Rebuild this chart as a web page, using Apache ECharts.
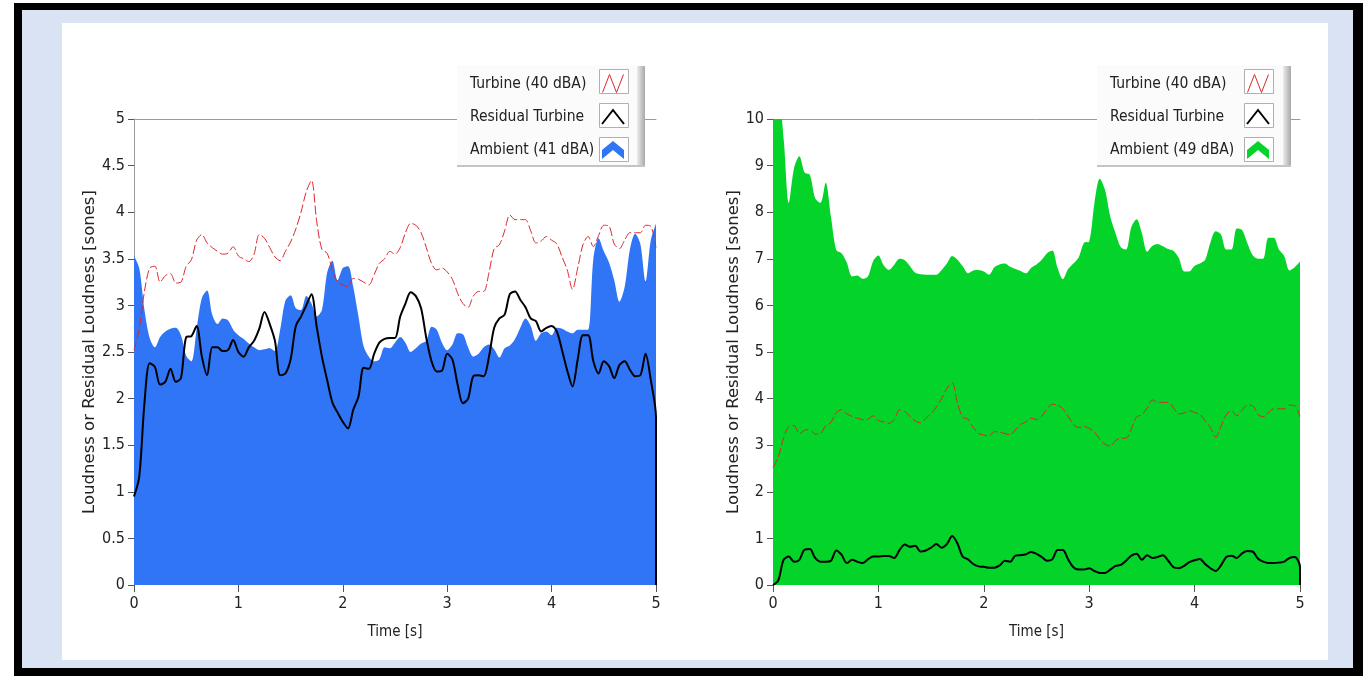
<!DOCTYPE html>
<html><head><meta charset="utf-8">
<script src="https://cdn.jsdelivr.net/npm/echarts@6/dist/echarts.min.js"></script>
<style>
html,body{margin:0;padding:0;background:#fff;}
#wrap{position:relative;width:1367px;height:676px;overflow:hidden;background:#fff;}
.blk{position:absolute;left:14px;top:3px;width:1349px;height:700px;background:#000;}
.lb{position:absolute;left:22px;top:10px;width:1331px;height:658px;background:#dae3f3;}
.wh{position:absolute;left:62px;top:23px;width:1266px;height:637px;background:#fff;}
#chart{position:absolute;left:0;top:0;width:1367px;height:676px;}
</style></head><body>
<div id="wrap"><div class="blk"></div><div class="lb"></div><div class="wh"></div><div id="chart"></div></div>
<script>
// sampling grid: 0 .. 5 s every 0.05 s
const times = Array.from({length: 101}, (_, i) => +(i * 0.05).toFixed(2));

const turbine = [
 2.52,2.75,3.15,3.40,3.42,3.25,3.32,3.34,3.24,3.25,
 3.42,3.49,3.70,3.76,3.67,3.62,3.58,3.55,3.56,3.63,
 3.53,3.50,3.47,3.55,3.76,3.72,3.62,3.52,3.48,3.58,
 3.68,3.82,4.00,4.22,4.34,3.90,3.60,3.56,3.38,3.25,
 3.22,3.20,3.29,3.28,3.25,3.22,3.33,3.45,3.50,3.58,
 3.55,3.62,3.78,3.88,3.86,3.78,3.62,3.45,3.38,3.40,
 3.36,3.28,3.13,3.02,2.98,3.10,3.15,3.15,3.35,3.61,
 3.65,3.80,3.97,3.92,3.92,3.92,3.80,3.67,3.69,3.74,
 3.70,3.66,3.52,3.38,3.17,3.40,3.65,3.74,3.63,3.75,
 3.86,3.85,3.66,3.61,3.70,3.78,3.78,3.78,3.86,3.85,
 3.62];

const ambientLeft = [
 3.53,3.40,2.95,2.65,2.55,2.66,2.72,2.75,2.76,2.68,
 2.46,2.40,2.75,3.08,3.16,2.90,2.80,2.86,2.84,2.74,
 2.68,2.64,2.59,2.55,2.52,2.53,2.54,2.51,2.74,3.05,
 3.11,2.97,2.95,3.10,3.02,2.88,2.95,3.35,3.48,3.27,
 3.40,3.42,3.20,2.88,2.56,2.45,2.40,2.42,2.55,2.54,
 2.60,2.66,2.60,2.50,2.54,2.59,2.62,2.77,2.74,2.60,
 2.52,2.58,2.70,2.69,2.55,2.45,2.48,2.55,2.58,2.53,
 2.44,2.54,2.57,2.64,2.76,2.86,2.78,2.62,2.70,2.72,
 2.68,2.76,2.75,2.72,2.70,2.74,2.74,2.74,3.50,3.72,
 3.58,3.46,3.27,3.04,3.20,3.60,3.77,3.66,3.26,3.70,
 3.88];

const residualLeft = [
 0.95,1.16,1.95,2.38,2.34,2.15,2.18,2.32,2.18,2.22,
 2.66,2.67,2.78,2.45,2.25,2.55,2.55,2.51,2.52,2.63,
 2.50,2.45,2.55,2.62,2.75,2.93,2.80,2.62,2.25,2.27,
 2.42,2.78,2.88,3.00,3.12,2.77,2.45,2.20,1.96,1.85,
 1.75,1.68,1.88,2.02,2.33,2.32,2.48,2.60,2.64,2.65,
 2.65,2.88,3.02,3.14,3.10,2.97,2.65,2.40,2.29,2.30,
 2.48,2.42,2.15,1.95,2.00,2.24,2.25,2.24,2.45,2.76,
 2.86,2.90,3.12,3.15,3.06,2.98,2.86,2.83,2.72,2.76,
 2.78,2.72,2.52,2.30,2.13,2.42,2.68,2.68,2.40,2.27,
 2.40,2.35,2.22,2.36,2.40,2.31,2.24,2.25,2.48,2.20,
 1.80];
const residualLeftEnd = 0;   // value after the drop at t = 5 s

const ambientRight = [
 10.4,10.4,9.60,8.20,8.95,9.20,8.85,8.80,8.30,8.20,
 8.63,7.90,7.19,7.12,6.92,6.62,6.64,6.57,6.62,6.95,
 7.07,6.86,6.76,6.87,7.00,6.97,6.84,6.70,6.67,6.66,
 6.66,6.66,6.76,6.90,7.06,6.98,6.84,6.69,6.75,6.76,
 6.73,6.66,6.82,6.88,6.90,6.83,6.78,6.74,6.69,6.81,
 6.88,6.98,7.12,7.18,6.80,6.56,6.78,6.90,7.03,7.34,
 7.37,8.20,8.72,8.48,7.90,7.55,7.25,7.20,7.68,7.85,
 7.55,7.15,7.28,7.32,7.27,7.21,7.17,7.02,6.73,6.73,
 6.85,6.90,6.98,7.35,7.59,7.52,7.20,7.20,7.65,7.62,
 7.34,7.08,7.00,7.00,7.45,7.45,7.20,7.06,6.75,6.82,
 6.94];

const residualRight = [
 0.00,0.10,0.54,0.61,0.50,0.54,0.76,0.77,0.58,0.50,
 0.50,0.52,0.74,0.65,0.47,0.54,0.50,0.47,0.55,0.61,
 0.61,0.62,0.62,0.58,0.75,0.87,0.82,0.84,0.72,0.74,
 0.80,0.88,0.80,0.88,1.05,0.89,0.61,0.55,0.45,0.40,
 0.39,0.37,0.37,0.42,0.52,0.50,0.63,0.64,0.66,0.71,
 0.67,0.60,0.52,0.55,0.75,0.75,0.55,0.38,0.33,0.33,
 0.36,0.30,0.26,0.26,0.33,0.41,0.43,0.52,0.63,0.67,
 0.54,0.64,0.58,0.60,0.64,0.52,0.38,0.36,0.41,0.49,
 0.53,0.56,0.45,0.36,0.30,0.42,0.60,0.63,0.58,0.68,
 0.73,0.72,0.57,0.50,0.47,0.47,0.48,0.50,0.58,0.60,
 0.39];
const residualRightEnd = 0;

const namesLeft = ['Turbine (40 dBA)', 'Residual Turbine', 'Ambient (41 dBA)'];
const namesRight = ['Turbine (40 dBA)', 'Residual Turbine', 'Ambient (49 dBA)'];
const yNameText = 'Loudness or Residual Loudness [sones]';
const xNameText = 'Time [s]';

const BLUE = '#2f75f6', GREEN = '#04d32a', RED = '#d9262b', BLACK = '#000';
const FONT = "'DejaVu Sans Condensed','DejaVu Sans',sans-serif";
const FONT_WIDE = "'DejaVu Sans',sans-serif";
const TXT = '#222';
const SMOOTH = 0.3;

function pairs(vals) { return vals.map((v, i) => [times[i], v]); }

const grids = [
  {left: 134, top: 119, width: 522, height: 466},
  {left: 773, top: 119, width: 527, height: 466}
];

function bottomX(g) {
  return {gridIndex: g, type: 'value', min: 0, max: 5, interval: 1, position: 'bottom', offset: 3,
    axisLine: {show: true, lineStyle: {color: 'rgba(0,0,0,0)'}},
    axisTick: {show: true, length: 7, lineStyle: {color: '#555'}},
    axisLabel: {show: true, color: TXT, fontFamily: FONT, fontSize: 16, margin: 8},
    splitLine: {show: false},
    name: xNameText, nameLocation: 'middle', nameGap: 37,
    nameTextStyle: {color: TXT, fontFamily: FONT, fontSize: 15}};
}
function topX(g) {
  return {gridIndex: g, type: 'value', min: 0, max: 5, position: 'top',
    axisLine: {show: true, lineStyle: {color: '#9a9a9a', width: 1}},
    axisTick: {show: false}, axisLabel: {show: false}, splitLine: {show: false}};
}
function leftY(g, max, interval, gap) {
  return {gridIndex: g, type: 'value', min: 0, max: max, interval: interval,
    axisLine: {show: true, lineStyle: {color: '#9a9a9a', width: 1}},
    axisTick: {show: true, length: 6, lineStyle: {color: '#555'}},
    axisLabel: {show: true, color: TXT, fontFamily: FONT, fontSize: 16, margin: 9},
    splitLine: {show: false},
    name: yNameText, nameLocation: 'middle', nameGap: gap, nameRotate: 90,
    nameTextStyle: {color: TXT, fontFamily: FONT_WIDE, fontSize: 16.5}};
}

function areaSeries(name, xi, yi, vals, color) {
  return {name, type: 'line', xAxisIndex: xi, yAxisIndex: yi, data: pairs(vals), smooth: SMOOTH,
    symbol: 'none', showSymbol: false, lineStyle: {width: 0, color}, itemStyle: {color},
    areaStyle: {color, opacity: 1}, z: 1, animation: false};
}
function turbineSeries(name, xi, yi) {
  return {name, type: 'line', xAxisIndex: xi, yAxisIndex: yi, data: pairs(turbine), smooth: SMOOTH,
    symbol: 'none', showSymbol: false, itemStyle: {color: RED},
    lineStyle: {color: RED, width: 1, type: [9, 3]}, z: 2, animation: false};
}
function residualSeries(name, xi, yi, vals, endVal) {
  const d = pairs(vals); d.push([times[times.length - 1], endVal]);
  return {name, type: 'line', xAxisIndex: xi, yAxisIndex: yi, data: d, smooth: SMOOTH,
    symbol: 'none', showSymbol: false, itemStyle: {color: BLACK},
    lineStyle: {color: BLACK, width: 2}, z: 3, animation: false};
}

function legendFor(left, textW, names, areaColor) {
  return {orient: 'vertical', left: left, top: 74, padding: 0, itemGap: 16,
    itemWidth: 22, itemHeight: 18, align: 'right', selectedMode: false, z: 10,
    formatter: '{a|{name}}',
    textStyle: {color: TXT, fontFamily: FONT, fontSize: 15.5,
      rich: {a: {width: textW, align: 'left', color: TXT, fontFamily: FONT, fontSize: 15.5, lineHeight: 18}}},
    data: [
      {name: names[0], icon: 'path://M0,18L7,0L14,18L21,0', itemStyle: {color: 'rgba(0,0,0,0)', borderColor: RED, borderWidth: 1}},
      {name: names[1], icon: 'path://M0,16L11,2L22,16', itemStyle: {color: 'rgba(0,0,0,0)', borderColor: BLACK, borderWidth: 2}},
      {name: names[2], icon: 'path://M0,9L11,0L22,9L22,18L11,9L0,18Z', itemStyle: {color: areaColor, borderWidth: 0}}
    ]};
}

function legendDecor(boxX, boxW, frameX) {
  const els = [];
  els.push({type: 'rect', z: 5, shape: {x: boxX, y: 65, width: boxW - 7, height: 100}, style: {fill: '#fbfbfb'}});
  els.push({type: 'rect', z: 5, shape: {x: boxX + boxW - 8, y: 66, width: 8, height: 100},
    style: {fill: new echarts.graphic.LinearGradient(0, 0, 1, 0, [{offset: 0, color: '#ececec'}, {offset: 1, color: '#a8a8a8'}])}});
  els.push({type: 'rect', z: 5, shape: {x: boxX, y: 165, width: boxW, height: 2}, style: {fill: '#c4c4c4'}});
  [69, 103, 137].forEach(y => {
    els.push({type: 'rect', z: 6, shape: {x: frameX + 0.5, y: y + 0.5, width: 29, height: 24},
      style: {fill: '#fff', stroke: '#b0b0b0', lineWidth: 1}});
  });
  return els;
}

const chart = echarts.init(document.getElementById('chart'), null, {renderer: 'canvas'});
chart.setOption({
  animation: false,
  backgroundColor: 'transparent',
  grid: grids,
  xAxis: [bottomX(0), bottomX(1), topX(0), topX(1)],
  yAxis: [leftY(0, 5, 0.5, 36), leftY(1, 10, 1, 31)],
  legend: [legendFor(470, 127, namesLeft, BLUE), legendFor(1110, 132, namesRight, GREEN)],
  graphic: {elements: legendDecor(457, 188, 599).concat(legendDecor(1097, 194, 1244))},
  series: [
    areaSeries(namesLeft[2], 0, 0, ambientLeft, BLUE),
    turbineSeries(namesLeft[0], 0, 0),
    residualSeries(namesLeft[1], 0, 0, residualLeft, residualLeftEnd),
    areaSeries(namesRight[2], 1, 1, ambientRight, GREEN),
    turbineSeries(namesRight[0] + ' ', 1, 1),
    residualSeries(namesRight[1] + ' ', 1, 1, residualRight, residualRightEnd)
  ]
});
</script></body></html>
